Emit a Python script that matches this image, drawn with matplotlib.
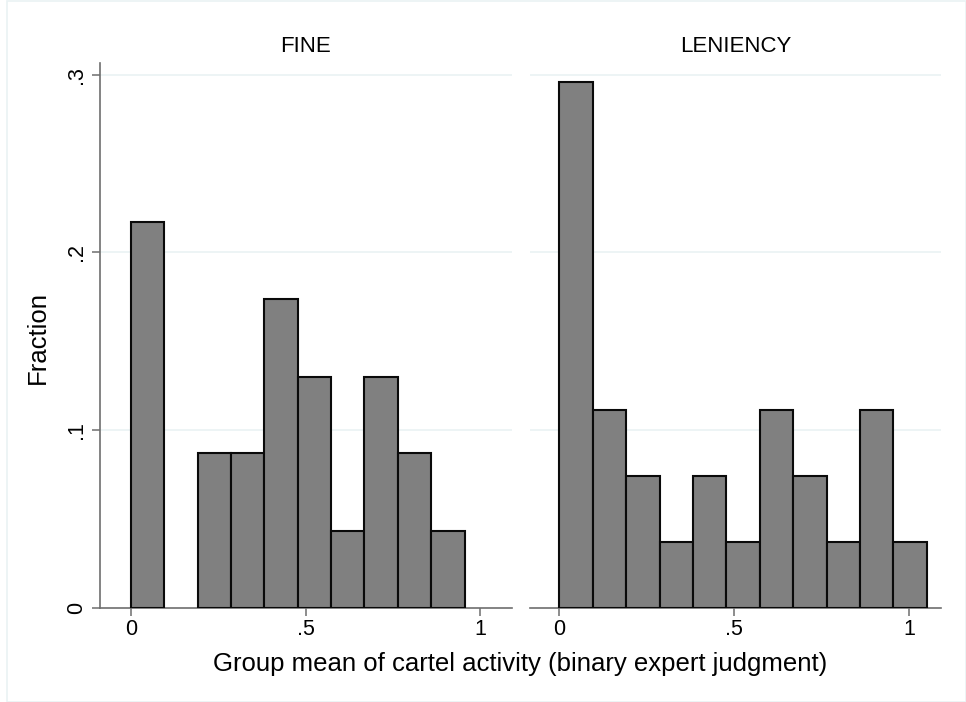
import matplotlib
matplotlib.use('Agg')
import matplotlib.pyplot as plt
import numpy as np
from matplotlib.patches import Rectangle

plt.rcParams['font.family'] = ['Liberation Sans', 'DejaVu Sans']

# histogram data (fraction per bin), bins start at 0
bin_width = 0.0955
fine_frac = [0.217, 0.0, 0.087, 0.087, 0.174, 0.130, 0.043, 0.130, 0.087, 0.043]
len_frac = [0.296, 0.111, 0.074, 0.037, 0.074, 0.037, 0.111, 0.074, 0.037, 0.111, 0.037]
panel_titles = ['FINE', 'LENIENCY']
xticks = [0, 0.5, 1]
xtick_labels = ['0', '.5', '1']
yticks = [0, 0.1, 0.2, 0.3]
ytick_labels = ['0', '.1', '.2', '.3']

axis_col = '#6e6e6e'
grid_col = '#eaf2f3'
bar_col = '#808080'

fig = plt.figure(figsize=(9.66, 7.02), dpi=100)
W, H = 966.0, 702.0

def fx(px):
    return px / W

def fy(py):
    return 1 - py / H

ax1 = fig.add_axes([fx(100), fy(607.7), fx(412), 545 / H])
ax2 = fig.add_axes([fx(530), fy(607.7), fx(411), 545 / H])

for ax, vals, title, xl, cx in [(ax1, fine_frac, panel_titles[0], (-0.089, 1.091), 306),
                                (ax2, len_frac, panel_titles[1], (-0.084, 1.091), 735.5)]:
    left = np.arange(len(vals)) * bin_width
    v = np.array(vals)
    keep = v > 0
    ax.bar(left[keep], v[keep], width=bin_width, align='edge',
           color=bar_col, edgecolor='#0a0a0a', linewidth=1.5, zorder=3)
    ax.set_xlim(*xl)
    ax.set_ylim(0, 0.3067)
    for g in yticks[1:]:
        ax.axhline(g, color=grid_col, linewidth=1.2, zorder=1)
    for s in ['top', 'right']:
        ax.spines[s].set_visible(False)
    ax.spines['bottom'].set_color(axis_col)
    ax.spines['bottom'].set_linewidth(1.2)
    ax.spines['left'].set_color(axis_col)
    ax.spines['left'].set_linewidth(1.2)
    ax.set_xticks(xticks)
    ax.set_xticklabels(xtick_labels)
    ax.tick_params(axis='x', direction='out', length=6, width=1.1, color=axis_col,
                   labelsize=15.5, pad=2)
    fig.text(fx(cx), fy(47), title, fontsize=16, ha='center', va='center')
    ax.set_facecolor('white')

ax1.set_yticks(yticks)
ax1.set_yticklabels(ytick_labels, rotation=90, va='center')
ax1.tick_params(axis='y', direction='out', length=6, width=1.1, color=axis_col,
                labelsize=15.5, pad=3)
ax2.spines['left'].set_visible(False)
ax2.set_yticks([])

fig.text(fx(38), fy(337), 'Fraction', rotation=90, fontsize=18.5,
         ha='center', va='center')
fig.text(fx(520), fy(664), 'Group mean of cartel activity (binary expert judgment)',
         fontsize=18.5, ha='center', va='center')

# faint outer frame
fig.patches.append(Rectangle((fx(6.5), fy(701.5)), 1 - fx(6.5) - 0.0005, 1 - fy(701.5) - 0.001,
                             transform=fig.transFigure, fill=False,
                             edgecolor=grid_col, linewidth=1.2))

fig.savefig('out.png', dpi=100)
